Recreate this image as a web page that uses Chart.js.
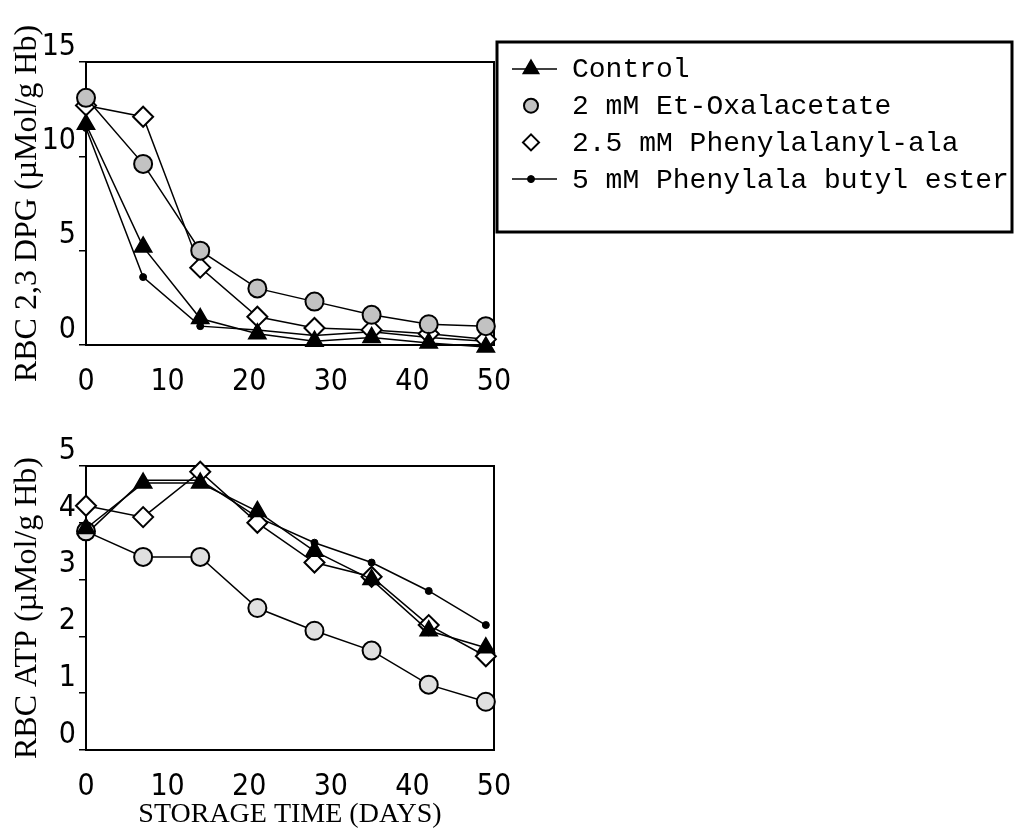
<!DOCTYPE html>
<html>
<head>
<meta charset="utf-8">
<script src="https://cdn.jsdelivr.net/npm/chart.js@4/dist/chart.umd.min.js"></script>
<style>
  body { margin: 0; background: #fff; }
  canvas { position: absolute; left: 0; }
  #dpgChart { top: 0; }
  #atpChart { top: 400px; }
</style>
</head>
<body>
<canvas id="dpgChart" width="1014" height="400"></canvas>
<canvas id="atpChart" width="1014" height="430"></canvas>
<script>
// storage days (x values shared by both panels)
const days = [0, 7, 14, 21, 28, 35, 42, 49];
const seriesNames = ['Control', '2 mM Et-Oxalacetate', '2.5 mM Phenylalanyl-ala', '5 mM Phenylala butyl ester'];

// top panel: RBC 2,3 DPG
const dpgControl = [11.7, 5.2, 1.4, 0.6, 0.2, 0.4, 0.1, -0.1];
const dpgOxal = [13.1, 9.6, 5.0, 3.0, 2.3, 1.6, 1.1, 1.0];
const dpgPheAla = [12.7, 12.1, 4.1, 1.5, 0.9, 0.8, 0.6, 0.3];
const dpgButyl = [11.5, 3.6, 1.0, 0.8, 0.5, 0.7, 0.4, 0.2];

// bottom panel: RBC ATP
const atpControl = [3.9, 4.7, 4.7, 4.2, 3.5, 3.0, 2.1, 1.8];
const atpOxal = [3.85, 3.4, 3.4, 2.5, 2.1, 1.75, 1.15, 0.85];
const atpPheAla = [4.3, 4.1, 4.9, 4.0, 3.3, 3.05, 2.2, 1.65];
const atpButyl = [3.8, 4.75, 4.75, 4.1, 3.65, 3.3, 2.8, 2.2];

const xTicks = [0, 10, 20, 30, 40, 50];
const dpgTicks = [0, 5, 10, 15];
const atpTicks = [0, 1, 2, 3, 4, 5];

const tickFont = { family: "'Liberation Sans Narrow', 'DejaVu Sans Condensed', 'Liberation Sans', sans-serif", size: 30 };
const serif = "'Liberation Serif', 'DejaVu Serif', serif";
const mono = "'Liberation Mono', 'DejaVu Sans Mono', monospace";

function pts(vals) {
    return days.map((d, i) => ({ x: d, y: vals[i] }));
}

function makeSets(c, o, p, b, oxFill) {
    const common = { borderColor: '#000', borderWidth: 1.5, pointBorderColor: '#000', tension: 0, clip: false };
    return [
        { ...common, label: seriesNames[0], data: pts(c), pointStyle: 'triangle', pointRadius: 10,
          pointBackgroundColor: '#000', pointBorderWidth: 1.5, legendLine: true, legendRadius: 9 },
        { ...common, label: seriesNames[1], data: pts(o), pointStyle: 'circle', pointRadius: 9,
          pointBackgroundColor: oxFill, pointBorderWidth: 2, legendRadius: 7 },
        { ...common, label: seriesNames[2], data: pts(p), pointStyle: 'rectRot', pointRadius: 10,
          pointBackgroundColor: '#fff', pointBorderWidth: 2, legendRadius: 8 },
        { ...common, label: seriesNames[3], data: pts(b), pointStyle: 'circle', pointRadius: 3.5,
          pointBackgroundColor: '#000', pointBorderWidth: 1, legendLine: true, legendRadius: 3.5 }
    ];
}

// box around the plot area
const framePlugin = {
    id: 'frame',
    beforeDatasetsDraw(chart) {
        const { ctx, chartArea: a } = chart;
        ctx.save();
        ctx.strokeStyle = '#000';
        ctx.lineWidth = 2;
        ctx.strokeRect(a.left, a.top, a.right - a.left, a.bottom - a.top);
        ctx.restore();
    }
};

// boxed legend to the right of the top panel
const boxLegend = {
    id: 'boxLegend',
    afterDraw(chart) {
        const { ctx, chartArea: a } = chart;
        const left = a.right + 3, top = 42, right = 1012, bottom = 232;
        ctx.save();
        ctx.strokeStyle = '#000';
        ctx.lineWidth = 3;
        ctx.strokeRect(left, top, right - left, bottom - top);
        ctx.font = '28px ' + mono;
        ctx.textBaseline = 'middle';
        ctx.fillStyle = '#000';
        chart.data.datasets.forEach((ds, i) => {
            const y = 69 + i * 36.7;
            const mx = left + 34;
            if (ds.legendLine) {
                ctx.lineWidth = 1.5;
                ctx.beginPath();
                ctx.moveTo(left + 15, y);
                ctx.lineTo(left + 60, y);
                ctx.stroke();
            }
            ctx.fillStyle = ds.pointBackgroundColor;
            ctx.lineWidth = ds.pointBorderWidth;
            Chart.helpers.drawPoint(ctx, { pointStyle: ds.pointStyle, radius: ds.legendRadius, rotation: 0, borderWidth: ds.pointBorderWidth }, mx, y);
            ctx.fillStyle = '#000';
            ctx.fillText(ds.label, left + 75, y + 1);
        });
        ctx.restore();
    }
};

function makeChart(id, sets, yTicks, yMax, yTitle, xHeight, padTop, xTitle) {
    return new Chart(document.getElementById(id), {
        type: 'line',
        data: { datasets: sets },
        options: {
            responsive: false,
            animation: false,
            layout: { padding: { top: padTop, right: 520, bottom: 0, left: 0 } },
            plugins: { legend: { display: false }, tooltip: { enabled: false } },
            scales: {
                x: {
                    type: 'linear', min: 0, max: 50,
                    afterBuildTicks: s => { s.ticks = xTicks.map(v => ({ value: v })); },
                    afterFit: s => { s.height = xHeight; },
                    grid: { display: false },
                    border: { display: true, color: '#000', width: 2 },
                    ticks: { color: '#000', font: tickFont, padding: 11, maxRotation: 0 },
                    title: { display: !!xTitle, text: xTitle || '', color: '#000',
                             font: { family: serif, size: 28, lineHeight: 1.1 }, padding: 0 }
                },
                y: {
                    min: 0, max: yMax,
                    afterBuildTicks: s => { s.ticks = yTicks.map(v => ({ value: v })); },
                    afterFit: s => { s.width = 86; },
                    grid: { display: true, drawOnChartArea: false, drawTicks: true, tickLength: 7, color: '#000', lineWidth: 1.5 },
                    border: { display: true, color: '#000', width: 2 },
                    ticks: { color: '#000', font: tickFont, padding: 3, labelOffset: -15 },
                    title: { display: true, text: yTitle, color: '#000',
                             font: { family: serif, size: 32 }, padding: { top: 8, bottom: 0 } }
                }
            }
        },
        plugins: id === 'dpgChart' ? [framePlugin, boxLegend] : [framePlugin]
    });
}

makeChart('dpgChart', makeSets(dpgControl, dpgOxal, dpgPheAla, dpgButyl, '#c2c2c2'),
          dpgTicks, 15, 'RBC 2,3 DPG (\u00b5Mol/g Hb)', 55, 62, null);
makeChart('atpChart', makeSets(atpControl, atpOxal, atpPheAla, atpButyl, '#e0e0e0'),
          atpTicks, 5, 'RBC ATP (\u00b5Mol/g Hb)', 80, 66, 'STORAGE TIME (DAYS)');
</script>
</body>
</html>
